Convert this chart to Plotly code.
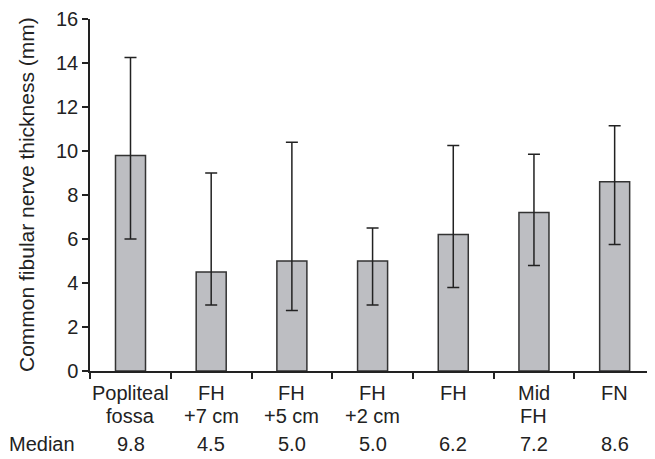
import plotly.graph_objects as go

categories = ["Popliteal<br>fossa", "FH<br>+7 cm", "FH<br>+5 cm", "FH<br>+2 cm", "FH", "Mid<br>FH", "FN"]
medians = [9.8, 4.5, 5.0, 5.0, 6.2, 7.2, 8.6]
upper = [14.25, 9.0, 10.4, 6.5, 10.25, 9.85, 11.15]
lower = [6.0, 3.0, 2.75, 3.0, 3.8, 4.8, 5.75]
y_ticks = [0, 2, 4, 6, 8, 10, 12, 14, 16]
y_title = "Common fibular nerve thickness (mm)"
row_label = "Median"

err_plus = [u - m for u, m in zip(upper, medians)]
err_minus = [m - l for m, l in zip(medians, lower)]

FONT = "Liberation Sans, Arial, sans-serif"
TXT = "#222222"
FS = 20

fig = go.Figure()
fig.add_trace(go.Bar(
    x=categories, y=medians,
    marker=dict(color="#bdbec2", line=dict(color="#333333", width=1.5)),
    error_y=dict(type="data", symmetric=False, array=err_plus, arrayminus=err_minus,
                 color="#222222", thickness=1.5, width=6),
))

annotations = []
for c, m in zip(categories, medians):
    lines = c.split("<br>")
    for i, ln in enumerate(lines):
        annotations.append(dict(x=c, y=0, xref="x", yref="paper", text=ln, showarrow=False,
                                yanchor="middle", yshift=-22 - 23 * i,
                                font=dict(family=FONT, size=FS, color=TXT)))
    annotations.append(dict(x=c, y=0, xref="x", yref="paper", text=f"{m:.1f}", showarrow=False,
                            yanchor="middle", yshift=-73,
                            font=dict(family=FONT, size=FS, color=TXT)))
annotations.append(dict(x=0, y=0, xref="paper", yref="paper", xanchor="left", yanchor="middle",
                        text=row_label, showarrow=False, xshift=-83, yshift=-73,
                        font=dict(family=FONT, size=FS, color=TXT)))
annotations.append(dict(x=0, y=0.5, xref="paper", yref="paper", xanchor="center", yanchor="middle",
                        text=y_title, textangle=-90, showarrow=False, xshift=-64,
                        font=dict(family=FONT, size=21, color=TXT)))

fig.update_layout(
    width=647, height=451,
    margin=dict(l=82, r=0, t=11, b=88),
    plot_bgcolor="white", paper_bgcolor="white",
    showlegend=False,
    bargap=0.628,
    font=dict(family=FONT, size=FS, color=TXT),
    annotations=annotations,
    xaxis=dict(showline=True, linecolor="#222222", linewidth=1.5, ticks="outside",
               tickson="boundaries", ticklen=6, tickcolor="#222222", tickwidth=1.5,
               showgrid=False, showticklabels=False, automargin=False),
    yaxis=dict(range=[0, 16], tickvals=y_ticks, showline=True, linecolor="#222222",
               linewidth=1.5, ticks="outside", ticklen=6, tickcolor="#222222", tickwidth=1.5,
               showgrid=False, zeroline=False, automargin=False,
               tickfont=dict(family=FONT, size=FS, color=TXT)),
)

fig.write_html("out.html")
